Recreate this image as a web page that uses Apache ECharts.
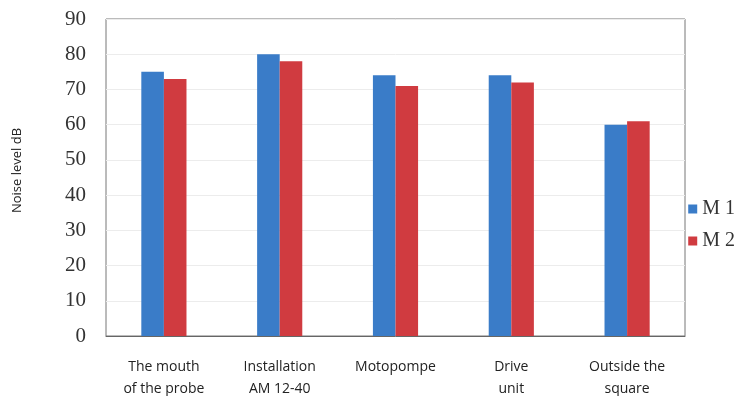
<!DOCTYPE html>
<html>
  <head>
    <meta charset="utf-8" />
    <title>Noise level</title>
    <style type="text/css">
      html,
      body {
        margin: 0;
        background: #fff;
      }
    </style>
    <script src="https://cdn.jsdelivr.net/npm/echarts@6/dist/echarts.min.js"></script>
  </head>
  <body>
    <div id="chart" style="width: 744px; height: 396px"></div>
    <script type="text/javascript">
      var categories = [
        "The mouth\nof the probe",
        "Installation\nAM 12-40",
        "Motopompe",
        "Drive\nunit",
        "Outside the\nsquare",
      ];
      var m1Values = [75, 80, 74, 74, 60];
      var m2Values = [73, 78, 71, 72, 61];

      var chart = echarts.init(document.getElementById("chart"));

      var option = {
        animation: false,
        grid: {
          left: 106,
          right: 59,
          top: 19,
          bottom: 60,
          outerBoundsMode: "none",
          show: true,
          borderColor: "#777",
          borderWidth: 1,
        },
        legend: {
          orient: "vertical",
          right: 4,
          top: 194,
          itemWidth: 9,
          itemHeight: 9,
          itemGap: 12,
          icon: "rect",
          textStyle: {
            fontFamily: "Liberation Serif",
            fontSize: 20,
            color: "#333",
          },
          data: ["M 1", "M 2"],
        },
        xAxis: {
          type: "category",
          data: categories,
          axisTick: { show: false },
          axisLine: { lineStyle: { color: "#666" } },
          axisLabel: {
            interval: 0,
            margin: 20,
            fontFamily: "Open Sans",
            fontSize: 14,
            lineHeight: 22,
            color: "#222",
          },
        },
        yAxis: {
          type: "value",
          min: 0,
          max: 90,
          interval: 10,
          name: "Noise level dB",
          nameLocation: "middle",
          nameGap: 82,
          nameTextStyle: {
            fontFamily: "Open Sans",
            fontSize: 13,
            color: "#222",
            padding: [0, 0, 0, 14],
          },
          axisLine: { show: false },
          axisTick: { show: false },
          axisLabel: {
            margin: 20,
            fontFamily: "Liberation Serif",
            fontSize: 21,
            color: "#333",
          },
          splitLine: { lineStyle: { color: "#ececec" } },
        },
        series: [
          {
            name: "M 1",
            type: "bar",
            data: m1Values,
            barGap: "0%",
            barCategoryGap: "61%",
            itemStyle: { color: "#3a7cc8" },
          },
          {
            name: "M 2",
            type: "bar",
            data: m2Values,
            itemStyle: { color: "#d03b40" },
          },
        ],
      };
      chart.setOption(option);
    </script>
  </body>
</html>
